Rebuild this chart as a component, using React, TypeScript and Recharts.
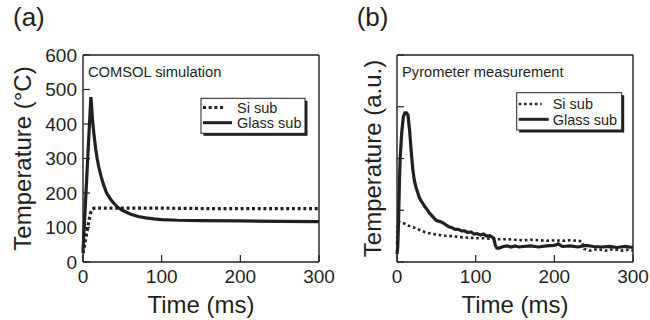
import { LineChart, Line, XAxis, YAxis } from "recharts"

const font = '"Liberation Sans", Arial, Helvetica, sans-serif'
const ink = "#231f20"

// (a) COMSOL simulation, temperature in °C
const timeGlassA = [0, 2, 4, 6, 8, 10, 11, 12, 14, 16, 18, 20, 23, 26, 30, 35, 40, 45, 50, 60, 70, 80, 90, 100, 120, 150, 200, 250, 300]
const tempGlassA = [30, 120, 210, 300, 390, 478, 450, 415, 368, 330, 300, 276, 248, 225, 200, 182, 168, 157, 150, 139, 132, 128, 125, 123, 121, 120, 119, 118, 117]
const timeSiA = [0, 2, 4, 6, 8, 10, 12, 14, 20, 50, 100, 150, 200, 250, 300]
const tempSiA = [25, 50, 75, 100, 125, 145, 153, 156, 156, 156, 156, 155, 155, 155, 155]

// (b) pyrometer measurement, arbitrary units
const timeGlassB = [0, 1, 2, 3, 4, 6, 8, 10, 12, 14, 16, 18, 20, 22, 24, 26, 28, 30, 32, 35, 38, 41, 44, 47, 50, 55, 58, 62, 66, 70, 74, 78, 82, 86, 90, 94, 98, 102, 106, 110, 114, 118, 121, 123, 125, 127, 130, 135, 140, 145, 150, 155, 160, 170, 180, 190, 200, 205, 210, 220, 230, 240, 250, 260, 270, 280, 290, 300]
const tempGlassB = [0.15, 0.3, 0.8, 1.5, 2.0, 2.5, 2.8, 2.88, 2.88, 2.84, 2.55, 2.15, 1.8, 1.58, 1.45, 1.36, 1.26, 1.2, 1.15, 1.08, 1.02, 0.95, 0.9, 0.85, 0.8, 0.78, 0.76, 0.72, 0.68, 0.66, 0.63, 0.63, 0.6, 0.6, 0.57, 0.58, 0.54, 0.55, 0.52, 0.54, 0.5, 0.51, 0.48, 0.46, 0.32, 0.27, 0.27, 0.3, 0.31, 0.29, 0.31, 0.29, 0.3, 0.31, 0.29, 0.31, 0.32, 0.35, 0.3, 0.31, 0.29, 0.32, 0.3, 0.29, 0.3, 0.28, 0.3, 0.28]
const timeSiB = [0, 1, 2, 5, 10, 15, 20, 25, 30, 35, 40, 50, 60, 70, 80, 90, 100, 110, 120, 130, 140, 150, 160, 170, 180, 190, 200, 210, 220, 230, 235, 238, 245, 255, 265, 275, 285, 295, 300]
const tempSiB = [0.35, 0.7, 0.78, 0.77, 0.74, 0.7, 0.67, 0.65, 0.61, 0.58, 0.56, 0.53, 0.51, 0.5, 0.48, 0.47, 0.46, 0.46, 0.45, 0.44, 0.44, 0.43, 0.42, 0.43, 0.42, 0.41, 0.42, 0.41, 0.42, 0.41, 0.4, 0.25, 0.22, 0.25, 0.22, 0.25, 0.22, 0.24, 0.22]

const timeTicks = [0, 100, 200, 300]
const tempTicksA = [0, 100, 200, 300, 400, 500, 600]
const tempTicksB = [0, 1, 2, 3, 4]

const zip = (t: number[], v: number[]) => t.map((x, i) => ({ t: x, v: v[i] }))

type LegendRow = { label: string; dash?: string; width: number; len: number; y: number; base: number }

type PanelProps = {
  tag: string
  tagX: number
  note: string
  noteX: number
  yLabel: string
  yLabelX: number
  yDomain: [number, number]
  yTicks: number[]
  yNumbers: boolean
  leftW: number
  rightW: number
  glass: { t: number; v: number }[]
  si: { t: number; v: number }[]
  siWidth: number
  siDash: string
  box: { x: number; y: number; w: number; h: number }
  rows: LegendRow[]
}

function Panel(p: PanelProps) {
  const tickLine = { stroke: ink, strokeWidth: 1.2 }
  const axisLine = { stroke: ink, strokeWidth: 1.4 }
  const tickStyle = { fontSize: 19, fill: ink, fontFamily: font }
  const none = () => ""
  return (
    <div style={{ position: "relative", width: 325, height: 320, overflow: "visible" }}>
      <LineChart width={325} height={320} margin={{ top: 50, right: 0, bottom: 0, left: 0 }} style={{ overflow: "visible" }}>
        <XAxis
          dataKey="t"
          type="number"
          domain={[0, 300]}
          ticks={timeTicks}
          interval={0}
          height={58}
          tickSize={-7}
          tickMargin={15}
          tickLine={tickLine}
          axisLine={axisLine}
          tick={tickStyle}
          label={{ value: "Time (ms)", position: "insideBottom", offset: 7, style: { fontSize: 24, fill: ink, fontFamily: font } }}
        />
        <XAxis
          xAxisId="top"
          orientation="top"
          dataKey="t"
          type="number"
          domain={[0, 300]}
          ticks={timeTicks}
          interval={0}
          height={5}
          tickSize={-7}
          tickLine={tickLine}
          axisLine={axisLine}
          tickFormatter={none}
        />
        <YAxis
          type="number"
          domain={p.yDomain}
          ticks={p.yTicks}
          interval={0}
          width={p.leftW}
          tickSize={-7}
          tickMargin={13}
          tickLine={tickLine}
          axisLine={axisLine}
          tick={tickStyle}
          tickFormatter={p.yNumbers ? undefined : none}
          label={{ value: p.yLabel, angle: -90, position: "insideLeft", offset: p.yLabelX, style: { textAnchor: "middle", fontSize: 24, fill: ink, fontFamily: font } }}
        />
        <YAxis
          yAxisId="right"
          orientation="right"
          type="number"
          domain={p.yDomain}
          ticks={p.yTicks}
          interval={0}
          width={p.rightW}
          tickSize={-7}
          tickLine={tickLine}
          axisLine={axisLine}
          tickFormatter={none}
        />
        <Line data={p.si} dataKey="v" type="linear" stroke={ink} strokeWidth={p.siWidth} strokeDasharray={p.siDash} dot={false} isAnimationActive={false} />
        <Line data={p.glass} dataKey="v" type="linear" stroke={ink} strokeWidth={3.2} dot={false} isAnimationActive={false} />
      </LineChart>
      <svg width={325} height={320} style={{ position: "absolute", left: 0, top: 0, pointerEvents: "none" }} fontFamily={font}>
        <text x={p.tagX} y={26.4} fontSize={26} fill={ink}>{p.tag}</text>
        <text x={p.noteX} y={77} fontSize={14.7} fill={ink}>{p.note}</text>
        <rect x={p.box.x + 2.5} y={p.box.y + 2.5} width={p.box.w} height={p.box.h} fill={ink} />
        <rect x={p.box.x} y={p.box.y} width={p.box.w} height={p.box.h} fill="#fff" stroke={ink} strokeWidth={1} />
        {p.rows.map((r) => (
          <g key={r.label}>
            <line x1={p.box.x + 2} x2={p.box.x + 2 + r.len} y1={r.y} y2={r.y} stroke={ink} strokeWidth={r.width} strokeDasharray={r.dash} />
            <text x={p.box.x + 36} y={r.base} fontSize={14.5} fill={ink}>{r.label}</text>
          </g>
        ))}
      </svg>
    </div>
  )
}

export default function App() {
  return (
    <div style={{ position: "absolute", left: 0, top: 0, width: 650, height: 320, display: "flex", background: "#fff", fontFamily: font }}>
      <style>{`.recharts-wrapper, .recharts-surface { overflow: visible !important; }`}</style>
      <Panel
        tag="(a)"
        tagX={13}
        note="COMSOL simulation"
        noteX={88}
        yLabel="Temperature (°C)"
        yLabelX={22}
        yDomain={[0, 600]}
        yTicks={tempTicksA}
        yNumbers={true}
        leftW={83}
        rightW={6}
        glass={zip(timeGlassA, tempGlassA)}
        si={zip(timeSiA, tempSiA)}
        siWidth={3.2}
        siDash="3 2.7"
        box={{ x: 201, y: 98.3, w: 104, h: 35 }}
        rows={[
          { label: "Si sub", dash: "3 2.7", width: 3, len: 22, y: 107.5, base: 112.7 },
          { label: "Glass sub", width: 3, len: 29, y: 122.7, base: 128.3 },
        ]}
      />
      <Panel
        tag="(b)"
        tagX={31.7}
        note="Pyrometer measurement"
        noteX={77}
        yLabel="Temperature (a.u.)"
        yLabelX={47}
        yDomain={[0, 4]}
        yTicks={tempTicksB}
        yNumbers={false}
        leftW={72}
        rightW={17}
        glass={zip(timeGlassB, tempGlassB)}
        si={zip(timeSiB, tempSiB)}
        siWidth={2.6}
        siDash="2.6 2.8"
        box={{ x: 191.7, y: 92.7, w: 105, h: 37.3 }}
        rows={[
          { label: "Si sub", dash: "2.6 2.8", width: 2.6, len: 23, y: 104, base: 108.8 },
          { label: "Glass sub", width: 3, len: 30, y: 119.3, base: 124.8 },
        ]}
      />
    </div>
  )
}
